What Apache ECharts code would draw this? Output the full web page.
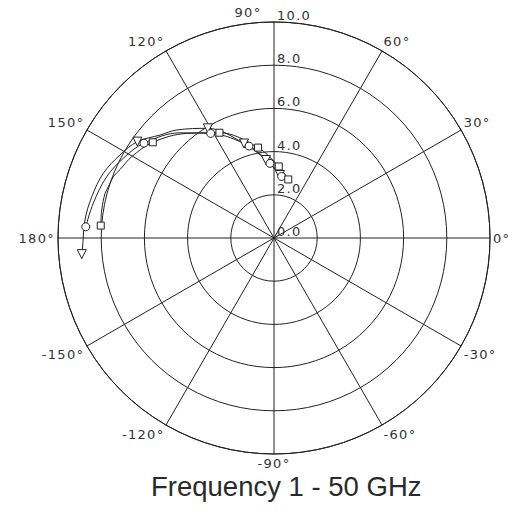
<!DOCTYPE html>
<html>
<head>
<meta charset="utf-8">
<script src="https://cdn.jsdelivr.net/npm/echarts@6/dist/echarts.min.js"></script>
<style>
  html, body { margin: 0; padding: 0; background: #fff; }
  #chart { width: 513px; height: 516px; }
  /* plotter-style wide spacing for the axis labels only */
  #chart text { letter-spacing: 1.3px; }
  #chart text[style*="Liberation"] { letter-spacing: 0; }
</style>
</head>
<body>
<div id="chart"></div>
<script>
// Magnitude grid (rings) and angle grid (spokes, degrees)
const radiusMin = 0, radiusMax = 10, radiusStep = 2;
const angleStep = 30;

// Trace 1 (triangle markers): angle in degrees, magnitude
const triAngle  = [84.6, 95.9, 107.6, 121.1, 132.0, 137.9, 144.8, 151.7, 159.2, 167.2, 174.6, 183.6, 184.8];
const triRadius = [2.93, 3.63, 4.59, 5.93, 6.73, 7.11, 7.74, 8.10, 8.45, 8.65, 8.79, 8.89, 8.93];
const triMarks  = [0, 1, 2, 3, 6, 12];

// Trace 2 (circle markers)
const cirAngle  = [83.0, 93.1, 105.2, 121.2, 132.0, 143.9, 151.4, 159.9, 169.1, 176.6];
const cirRadius = [2.87, 3.46, 4.41, 5.66, 6.55, 7.45, 7.86, 8.25, 8.52, 8.73];
const cirMarks  = [0, 1, 2, 3, 5, 9];

// Trace 3 (square markers)
const sqAngle  = [76.3, 86.2, 100.0, 117.4, 130.0, 141.7, 150.3, 156.0, 159.1, 162.5, 165.2, 170.8, 175.9];
const sqRadius = [2.79, 3.32, 4.25, 5.49, 6.32, 7.15, 7.59, 7.80, 7.96, 8.02, 8.09, 8.08, 8.04];
const sqMarks  = [0, 1, 2, 3, 5, 12];

const titleText = 'Frequency 1 - 50 GHz';

// The angle axis runs 90..450 so that its start (where the radius axis sits) is the 90° spoke
const angleMin = 90, angleMax = 450;
const toAxisAngle = a => (a < angleMin ? a + 360 : a);

function buildData(angles, radii, marks, symbol, size, rotate) {
  return angles.map((a, i) => {
    const item = { value: [radii[i], toAxisAngle(a)] };
    if (marks.includes(i)) {
      item.symbol = symbol;
      item.symbolSize = size;
      if (rotate) item.symbolRotate = rotate;
    } else {
      item.symbol = 'none';
    }
    return item;
  });
}

function angleLabel(v) {
  if (v === angleMax) return '';
  let d = ((v % 360) + 360) % 360;
  if (d > 180) d -= 360;
  if (d === 90) return '{top|' + d + '°}';
  return d + '°';
}

const lineColor = '#222';
const labelFont = { fontFamily: 'DejaVu Sans', fontSize: 13, color: '#333' };

const traceBase = {
  type: 'line',
  coordinateSystem: 'polar',
  smooth: 0.35,
  showSymbol: true,
  lineStyle: { color: lineColor, width: 1 },
  itemStyle: { color: '#fff', borderColor: lineColor, borderWidth: 1 },
  emphasis: { disabled: true },
  animation: false,
  z: 5
};

const chart = echarts.init(document.getElementById('chart'), null, { renderer: 'svg' });
chart.setOption({
  backgroundColor: '#fff',
  animation: false,
  title: {
    text: titleText,
    left: 151,
    top: 472,
    padding: 0,
    textStyle: { fontFamily: 'Liberation Sans', fontSize: 27.5, fontWeight: 'normal', color: '#2a2a2a' }
  },
  polar: { center: [274, 238], radius: 216 },
  angleAxis: {
    type: 'value',
    min: angleMin,
    max: angleMax,
    interval: angleStep,
    startAngle: 90,
    clockwise: false,
    axisLine: { show: true, lineStyle: { color: lineColor, width: 1 } },
    axisTick: { show: false },
    splitLine: { show: true, lineStyle: { color: lineColor, width: 1 } },
    axisLabel: {
      ...labelFont,
      margin: 3,
      formatter: angleLabel,
      rich: { top: { ...labelFont, padding: [0, 52, 0, 0] } }
    }
  },
  radiusAxis: {
    type: 'value',
    min: radiusMin,
    max: radiusMax,
    interval: radiusStep,
    axisLine: { show: false },
    axisTick: { show: false },
    splitLine: { show: true, lineStyle: { color: lineColor, width: 1 } },
    axisLabel: {
      ...labelFont,
      margin: -3,
      align: 'left',
      verticalAlign: 'bottom',
      formatter: v => v.toFixed(1)
    }
  },
  series: [
    { ...traceBase, name: 'trace1', data: buildData(triAngle, triRadius, triMarks, 'triangle', 9, 180) },
    { ...traceBase, name: 'trace2', data: buildData(cirAngle, cirRadius, cirMarks, 'circle', 8) },
    { ...traceBase, name: 'trace3', data: buildData(sqAngle, sqRadius, sqMarks, 'rect', 7) }
  ]
});
</script>
</body>
</html>
